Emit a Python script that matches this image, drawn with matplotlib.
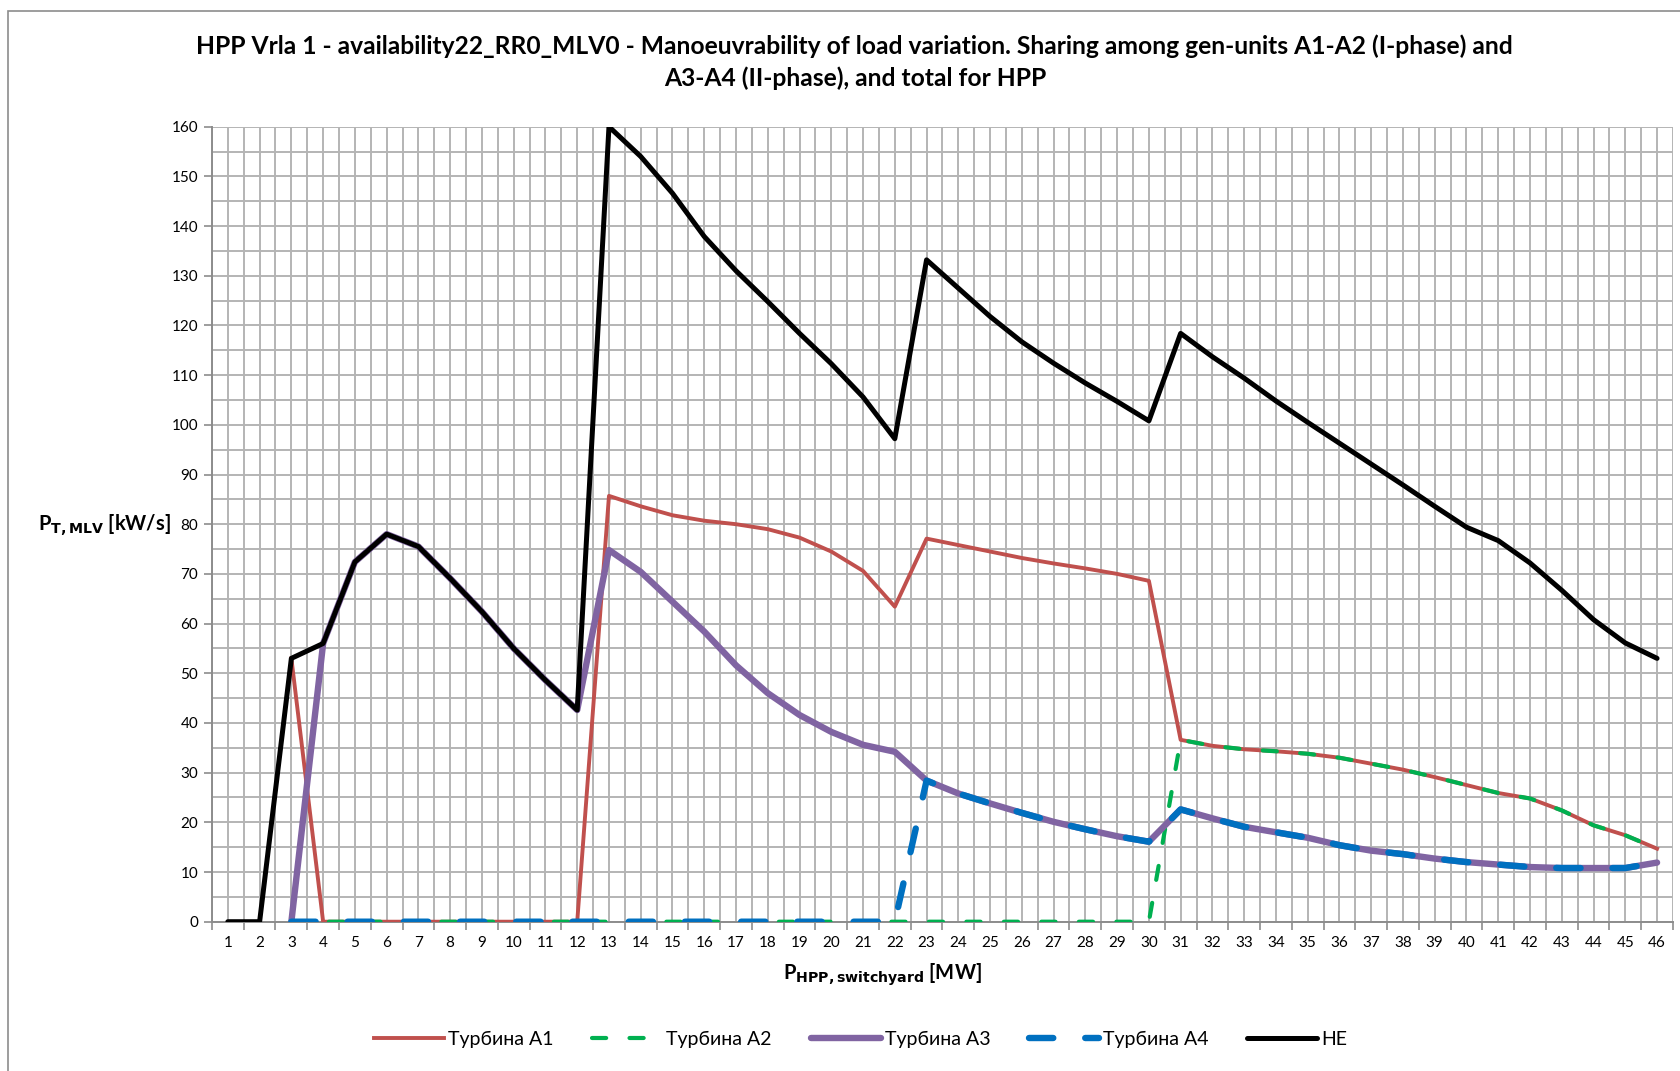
import matplotlib
matplotlib.use("Agg")
import matplotlib.pyplot as plt
import numpy as np
from matplotlib.patches import Rectangle

plt.rcParams['font.family'] = ['Lato', 'DejaVu Sans']

# data
categories = list(range(1, 47))
nan = np.nan

turb_a1 = [nan, nan, 53.0, 0, 0, 0, 0, 0, 0, 0, 0, 0,
           85.7, 83.6, 81.8, 80.7, 80.0, 79.0, 77.3, 74.5, 70.6, 63.4,
           77.1, 75.8, 74.5, 73.2, 72.1, 71.1, 70.0, 68.6,
           36.6, 35.4, 34.7, 34.3, 33.8, 33.0, 31.8, 30.6, 29.1, 27.5,
           25.9, 24.8, 22.4, 19.4, 17.4, 14.7]
turb_a2 = [nan, nan] + [0] * 28 + turb_a1[30:]
turb_a3 = [nan, nan, 0, 56.0, 72.4, 78.0, 75.5, 69.1, 62.4, 55.0, 48.6, 42.6,
           74.8, 70.4, 64.4, 58.4, 51.6, 46.0, 41.6, 38.2, 35.6, 34.2,
           28.4, 25.8, 23.8, 21.9, 20.1, 18.6, 17.2, 16.1,
           22.6, 20.8, 19.1, 18.0, 16.9, 15.4, 14.3, 13.6, 12.7, 12.0,
           11.5, 11.0, 10.8, 10.8, 10.8, 11.9]
turb_a4 = [nan, nan] + [0] * 20 + turb_a3[22:]
hpp_total = [0, 0, 53.0, 56.0, 72.4, 78.0, 75.5, 69.1, 62.4, 55.0, 48.6, 42.6,
             160.0, 154.0, 146.6, 137.9, 131.0, 124.8, 118.4, 112.3, 105.6, 97.2,
             133.2, 127.5, 121.8, 116.7, 112.4, 108.4, 104.7, 100.8,
             118.4, 113.7, 109.4, 104.8, 100.5, 96.3, 92.1, 87.9, 83.6, 79.4,
             76.7, 72.2, 66.7, 60.8, 56.1, 53.0]

labels = ['Турбина A1', 'Турбина A2', 'Турбина A3', 'Турбина A4', 'HE']

fig = plt.figure(figsize=(16.81, 10.71), dpi=100)
ax = fig.add_axes([0.1261, 0.1394, 0.9952 - 0.1261, 0.8817 - 0.1394])

# chart area border
fig.patches.append(Rectangle((8 / 1681, -0.01), 1.0, 1.0, transform=fig.transFigure,
                             fill=False, edgecolor='#8c8c8c', linewidth=1.2))

ax.plot(categories, turb_a1, color='#C0504D', lw=2.8, label=labels[0],
        solid_joinstyle='round', zorder=3)
ax.plot(categories, turb_a2, color='#00B050', lw=3.0, label=labels[1],
        dashes=(3.4, 5.6), dash_capstyle='round', zorder=4)
ax.plot(categories, turb_a3, color='#8064A2', lw=4.6, label=labels[2],
        solid_joinstyle='round', solid_capstyle='round', zorder=5)
ax.plot(categories, turb_a4, color='#0070C0', lw=4.6, label=labels[3],
        dashes=(3.8, 5.0), dash_capstyle='round', zorder=6)
ax.plot(categories, hpp_total, color='black', lw=3.6, label=labels[4],
        solid_joinstyle='round', solid_capstyle='round', zorder=7)

ax.set_xlim(0.5, 46.5)
ax.set_ylim(0, 160)
ax.set_xticks(categories)
ax.set_xticklabels([str(c) for c in categories], fontsize=11)
ax.set_xticks(np.arange(0.5, 47, 1), minor=True)
ax.set_yticks(np.arange(0, 161, 10))
ax.set_yticks(np.arange(5, 160, 10), minor=True)
ax.tick_params(axis='x', which='major', length=0, pad=10)
ax.tick_params(axis='x', which='minor', length=6, width=1.2, color='#8c8c8c')
ax.tick_params(axis='y', which='major', length=6, width=1.2, color='#8c8c8c',
               labelsize=11, pad=4)
ax.tick_params(axis='y', which='minor', length=0)

ax.grid(True, which='both', color='#b4b4b4', linewidth=1.4, zorder=0)
ax.set_axisbelow(True)
for side in ['top', 'right']:
    ax.spines[side].set_visible(False)
for side in ['left', 'bottom']:
    ax.spines[side].set_color('#8c8c8c')
    ax.spines[side].set_linewidth(1.4)

fig.text(0.5085, 0.957, 'HPP Vrla 1 - availability22_RR0_MLV0 - Manoeuvrability of load variation. '
         'Sharing among gen-units A1-A2 (I-phase) and', ha='center', va='center',
         fontsize=17.7, fontweight='bold')
fig.text(0.5085, 0.927, 'A3-A4 (II-phase), and total for HPP', ha='center', va='center',
         fontsize=17.7, fontweight='bold')

fig.text(104 / 1681, 1 - 525 / 1071, r'P$_{\mathbf{T,MLV}}$ [kW/s]', ha='center', va='center',
         fontsize=14.5, fontweight='bold')
fig.text(0.525, 1 - 975 / 1071, r'P$_{\mathbf{HPP,switchyard}}$ [MW]', ha='center', va='center',
         fontsize=14.5, fontweight='bold')

fig.legend(loc='center', bbox_to_anchor=(0.512, 1 - 1039 / 1071), ncol=5, frameon=False,
           fontsize=14, handlelength=3.6, columnspacing=2.0, handletextpad=0.2)

fig.savefig('out.png', dpi=100)
